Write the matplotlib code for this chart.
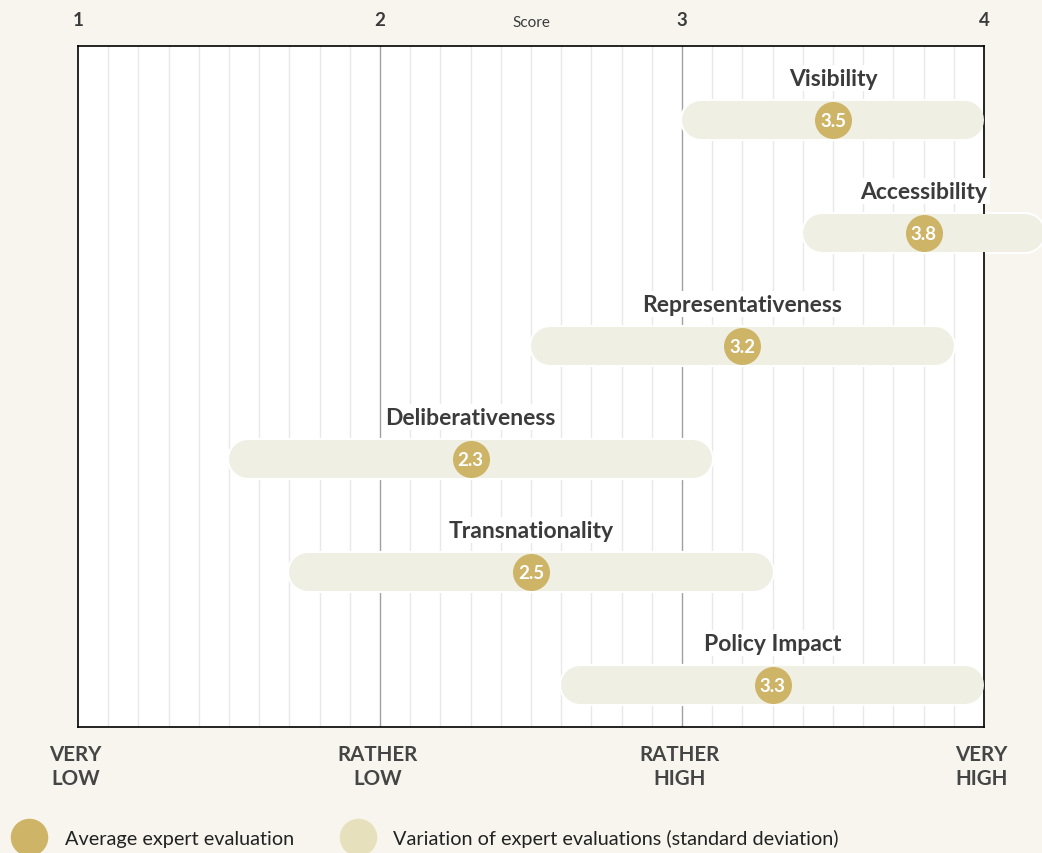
import numpy as np
import matplotlib
matplotlib.use("Agg")
from matplotlib import pyplot as plt
from matplotlib.lines import Line2D
import matplotlib.transforms as mtransforms

plt.rcParams['font.family'] = ['Lato', 'DejaVu Sans']

categories = ["Visibility", "Accessibility", "Representativeness",
              "Deliberativeness", "Transnationality", "Policy Impact"]
means = [3.5, 3.8, 3.2, 2.3, 2.5, 3.3]
sds = [0.5, 0.4, 0.7, 0.8, 0.8, 0.7]
score_ticks = [1, 2, 3, 4]
level_labels = ["VERY\nLOW", "RATHER\nLOW", "RATHER\nHIGH", "VERY\nHIGH"]

BG = "#f8f5ee"
GOLD = "#cdb467"
BAR = "#f0efe3"
LIGHT = "#e6e1bc"
TXT = "#3b3b3b"

fig = plt.figure(figsize=(10.42, 8.54), dpi=100, facecolor=BG)
ax = fig.add_axes([0.0749, 0.1475, 0.8695, 0.7975])
ax.set_facecolor("white")
ax.set_xlim(1, 4)
ax.set_ylim(5.368, -0.659)

# grid
ax.set_xticks(np.arange(1, 4.01, 0.1), minor=True)
ax.set_xticks(score_ticks)
ax.grid(which='minor', axis='x', color='#e8e8e8', lw=1, zorder=0)
for v in [2, 3]:
    ax.axvline(v, color='#a0a0a0', lw=1, zorder=0.5)
ax.tick_params(which='both', length=0)
ax.xaxis.tick_top()
ax.tick_params(axis='x', pad=13, labelsize=13.5, labelcolor=TXT)
for lab in ax.get_xticklabels():
    lab.set_fontweight('bold')
ax.set_yticks([])
for s in ax.spines.values():
    s.set_color('black')
    s.set_linewidth(1.2)

fig.text(531 / 1042, 1 - 23 / 854, "Score", ha='center', va='center',
         fontsize=11, color=TXT)

# bars: thick round-capped lines, inset by cap radius
bar_px = 38
px_per_unit = ax.get_window_extent().width / 3
r = (bar_px / 2) / px_per_unit
lw_bar = bar_px * 72 / fig.dpi
for i, (m, sd) in enumerate(zip(means, sds)):
    lo, hi = m - sd + r, m + sd - r
    ax.plot([lo, hi], [i, i], color='white', lw=lw_bar + 3,
            solid_capstyle='round', clip_on=False, zorder=2)
    ax.plot([lo, hi], [i, i], color=BAR, lw=lw_bar,
            solid_capstyle='round', clip_on=False, zorder=3)
    ax.text(m, i - 0.375, categories[i], ha='center', va='center',
            fontsize=16.5, fontweight='bold', color=TXT, zorder=4,
            bbox=dict(facecolor='white', edgecolor='none', pad=2))
    ax.text(m, i, f"{m:.1f}", ha='center', va='center', fontsize=13.5,
            fontweight='bold', color='white', zorder=6)

ms = 37 * 72 / fig.dpi
ax.scatter(means, range(len(means)), s=ms ** 2, color=GOLD, zorder=5,
           clip_on=False, linewidths=0)

# level labels below axis
trans = mtransforms.blended_transform_factory(ax.transData, ax.transAxes)
for x, lab in zip(score_ticks, level_labels):
    ax.annotate(lab, xy=(x, 0), xycoords=trans, xytext=(-2, -28),
                textcoords='offset points', ha='center', va='center',
                fontsize=14.8, fontweight='bold', color='#454545',
                linespacing=1.3)

handles = [Line2D([], [], ls='none', marker='o', markersize=27,
                  markerfacecolor=GOLD, markeredgewidth=0),
           Line2D([], [], ls='none', marker='o', markersize=27,
                  markerfacecolor=LIGHT, markeredgewidth=0)]
fig.legend(handles, ["Average expert evaluation",
                     "Variation of expert evaluations (standard deviation)"],
           loc='center left', bbox_to_anchor=(0.006, 1 - 839 / 854), ncol=2,
           frameon=False, fontsize=14.3, handletextpad=1.05,
           columnspacing=2.45, borderaxespad=0, handlelength=1.5,
           labelcolor='#222222')

fig.savefig("out.png", dpi=100, facecolor=BG)
